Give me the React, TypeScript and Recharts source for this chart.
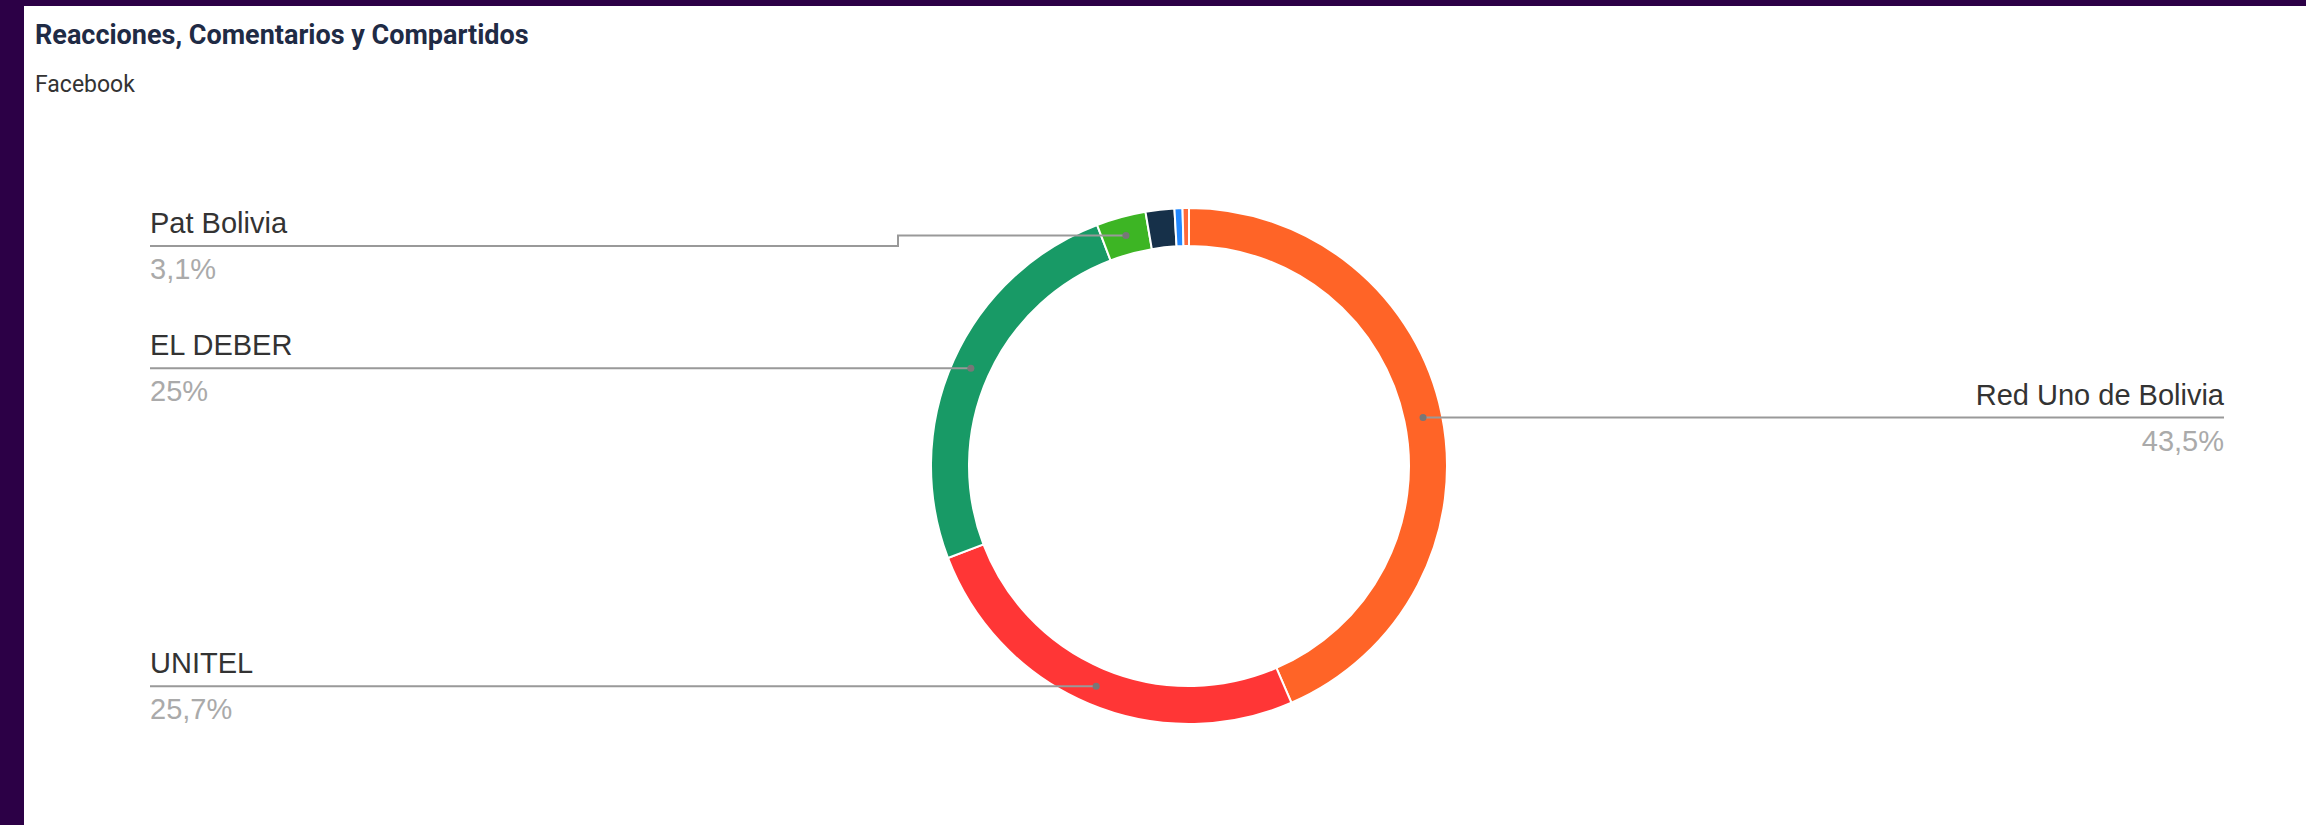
import { PieChart, Pie, Cell } from "recharts";

const medios = ["Red Uno de Bolivia", "UNITEL", "EL DEBER", "Pat Bolivia", "Otro 1", "Otro 2", "Otro 3"];
const porcentajes = [43.5, 25.7, 25, 3.1, 1.8, 0.5, 0.4];
const colores = ["#ff6427", "#ff3636", "#189a66", "#3db524", "#163049", "#2288ff", "#ff6a3a"];

const W = 2282;
const H = 819;
const CX = 1160;
const CY = 455;
const R_OUT = 258;
const R_IN = 220;
const LEFT_EDGE = 126;
const RIGHT_EDGE = 2200;
const MIN_LINE_Y = 240; // labels can't go above this
const RADIAN = Math.PI / 180;

const data = medios.map((name, i) => ({ name, value: porcentajes[i] }));

function fmtPct(p: number) {
  return Number((p * 100).toFixed(1)).toString().replace(".", ",") + "%";
}

function renderLabel(props: any) {
  const { cx, cy, midAngle, innerRadius, outerRadius, percent, name } = props;
  if (percent < 0.03) return null;
  const r = (innerRadius + outerRadius) / 2;
  const ax = cx + r * Math.cos(-midAngle * RADIAN);
  const ay = cy + r * Math.sin(-midAngle * RADIAN);
  const right = ax > cx;
  const edge = right ? RIGHT_EDGE : LEFT_EDGE;
  const ly = Math.max(ay, MIN_LINE_Y);
  const elbowX = right ? cx + outerRadius + 33 : cx - outerRadius - 33;
  const points =
    Math.abs(ly - ay) < 0.5
      ? `${ax},${ly} ${edge},${ly}`
      : `${ax},${ay} ${elbowX},${ay} ${elbowX},${ly} ${edge},${ly}`;
  const anchor = right ? "end" : "start";
  return (
    <g>
      <polyline points={points} fill="none" stroke="#999" strokeWidth={2} />
      <circle cx={ax} cy={ay} r={3.5} fill="#777" />
      <text
        x={edge}
        y={ly - 13}
        textAnchor={anchor}
        fontFamily="'Liberation Sans', Arial, sans-serif"
        fontSize={29}
        fill="#333"
      >
        {name}
      </text>
      <text
        x={edge}
        y={ly + 33}
        textAnchor={anchor}
        fontFamily="'Liberation Sans', Arial, sans-serif"
        fontSize={29}
        fill="#aaa"
      >
        {fmtPct(percent)}
      </text>
    </g>
  );
}

export default function App() {
  return (
    <div
      style={{
        position: "absolute",
        left: 0,
        top: 0,
        width: 2306,
        height: 825,
        background: "#2c0046",
        overflow: "hidden",
      }}
    >
      <div
        style={{
          position: "absolute",
          left: 24,
          top: 6,
          width: W,
          height: H,
          background: "#fff",
        }}
      >
        <div
          style={{
            position: "absolute",
            left: 11,
            top: 16,
            fontFamily: "Roboto, sans-serif",
            fontWeight: 700,
            fontSize: 27,
            lineHeight: "27px",
            color: "#1f2b45",
          }}
        >
          Reacciones, Comentarios y Compartidos
        </div>
        <div
          style={{
            position: "absolute",
            left: 11,
            top: 67,
            fontFamily: "Roboto, sans-serif",
            fontSize: 23,
            lineHeight: "23px",
            color: "#333",
          }}
        >
          Facebook
        </div>
        <div style={{ position: "absolute", left: 0, top: 0 }}>
          <PieChart width={W} height={H}>
            <Pie
              data={data}
              dataKey="value"
              nameKey="name"
              cx={CX}
              cy={CY}
              innerRadius={R_IN}
              outerRadius={R_OUT}
              startAngle={90}
              endAngle={-270}
              stroke="#fff"
              strokeWidth={2}
              label={renderLabel}
              labelLine={false}
              isAnimationActive={false}
            >
              {data.map((d, i) => (
                <Cell key={d.name} fill={colores[i]} />
              ))}
            </Pie>
          </PieChart>
        </div>
      </div>
    </div>
  );
}
